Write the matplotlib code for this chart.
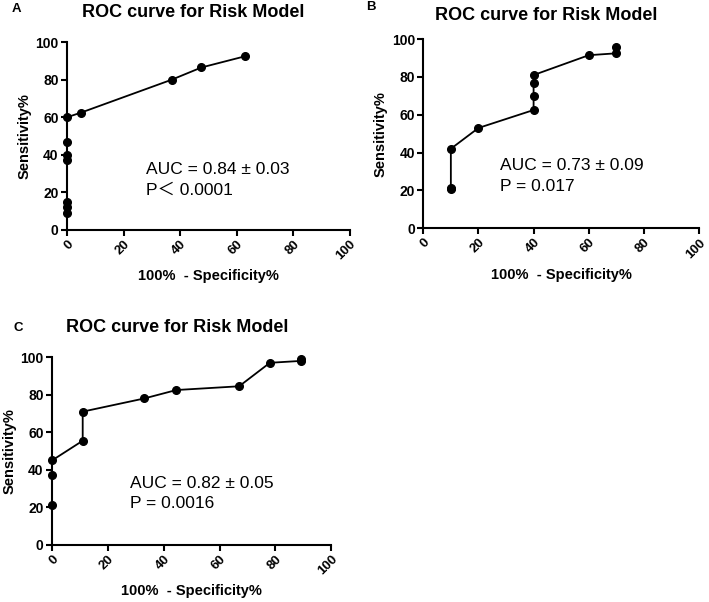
import matplotlib
matplotlib.use("Agg")
import matplotlib.pyplot as plt

plt.rcParams['font.family'] = ['Liberation Sans', 'DejaVu Sans']

# Panel A
a_fpr = [0, 0, 0, 0, 0, 0, 0, 5, 37, 47.5, 63]
a_sens = [9, 12, 15, 37, 40, 47, 60, 62.5, 80, 86.5, 92.5]
# Panel B
b_fpr = [10, 10, 10, 20, 40, 40, 40, 40, 60, 70, 70]
b_sens = [20.5, 21.5, 42, 53, 62.5, 70, 77, 81, 91.5, 92.5, 96]
# Panel C
c_fpr = [0, 0, 0, 11, 11, 33, 44.5, 67, 78, 89, 89]
c_sens = [21.5, 37.5, 45, 55.5, 71, 78, 82.5, 84.5, 97, 98, 99]

ticks = [0, 20, 40, 60, 80, 100]
title = 'ROC curve for Risk Model'

fig = plt.figure(figsize=(7.09, 6.02), dpi=100)


def panel(rect, x, y, auc_lines, text_pos, tpad=18):
    ax = fig.add_axes(rect)
    ax.plot(x, y, color='black', lw=1.3, marker='o', ms=5.5, clip_on=False, zorder=3)
    ax.set_xlim(0, 100)
    ax.set_ylim(0, 100)
    ax.set_xticks(ticks)
    ax.set_yticks(ticks)
    ax.set_xticklabels([str(t) for t in ticks], rotation=45, ha='right',
                       rotation_mode='anchor', fontsize=9.5, fontweight='bold')
    ax.set_yticklabels([str(t) for t in ticks], fontsize=10, fontweight='bold')
    for s in ['top', 'right']:
        ax.spines[s].set_visible(False)
    for s in ['left', 'bottom']:
        ax.spines[s].set_linewidth(1.5)
    ax.tick_params(width=1.5, length=4, direction='out', pad=2)
    ax.set_xlabel('100%  - Specificity%', fontsize=10.5, fontweight='bold', labelpad=5)
    ax.set_ylabel('Sensitivity%', fontsize=10.5, fontweight='bold', labelpad=3)
    ax.set_title(title, fontsize=13, fontweight='bold', pad=tpad, x=0.447)
    ax.text(text_pos[0], text_pos[1], auc_lines[0], fontsize=12.5,
            transform=ax.transData, va='center')
    ax.text(text_pos[0], text_pos[1] - 11, auc_lines[1], fontsize=12.5,
            transform=ax.transData, va='center',
            family=['Liberation Sans', 'Noto Sans CJK SC'])
    return ax


panel([0.0945, 0.618, 0.399, 0.312], a_fpr, a_sens,
      ['AUC = 0.84 ± 0.03', 'P＜ 0.0001'], (28, 32))
panel([0.597, 0.621, 0.389, 0.314], b_fpr, b_sens,
      ['AUC = 0.73 ± 0.09', 'P = 0.017'], (28, 33), tpad=14)
panel([0.0733, 0.0947, 0.394, 0.312], c_fpr, c_sens,
      ['AUC = 0.82 ± 0.05', 'P = 0.0016'], (28, 33))

fig.text(12 / 709, 1 - 9 / 602, 'A', fontsize=9.5, fontweight='bold', va='center')
fig.text(366 / 709, 1 - 7 / 602, 'B', fontsize=9.5, fontweight='bold', va='center')
fig.text(14 / 709, 1 - 328 / 602, 'C', fontsize=9.5, fontweight='bold', va='center')

fig.savefig('out.png', dpi=100)
